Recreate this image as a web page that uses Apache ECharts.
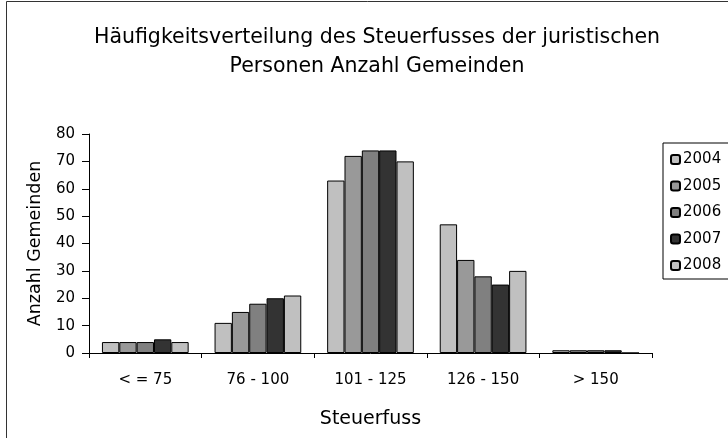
<!DOCTYPE html>
<html><head><meta charset="utf-8">
<script src="https://cdn.jsdelivr.net/npm/echarts@6/dist/echarts.min.js"></script>
<style>html,body{margin:0;padding:0;background:#fff}#c{width:728px;height:438px}</style>
</head><body><div id="c"></div>
<script>
const categories = ['< = 75', '76 - 100', '101 - 125', '126 - 150', '> 150'];
const years = ['2004', '2005', '2006', '2007', '2008'];
const v2004 = [4, 11, 63, 47, 1];
const v2005 = [4, 15, 72, 34, 1];
const v2006 = [4, 18, 74, 28, 1];
const v2007 = [5, 20, 74, 25, 1];
const v2008 = [4, 21, 70, 30, 0];
const yTicks = [0, 10, 20, 30, 40, 50, 60, 70, 80];
const colors = ['#c0c0c0', '#999999', '#808080', '#333333', '#c0c0c0'];
const values = [v2004, v2005, v2006, v2007, v2008];
const FONT = 'DejaVu Sans';

const chart = echarts.init(document.getElementById('c'), null, {renderer: 'canvas'});
chart.setOption({
  animation: false,
  backgroundColor: '#fff',
  textStyle: {fontFamily: FONT, color: '#000'},
  graphic: [{
    type: 'rect', shape: {x: 6.5, y: 1.5, width: 900, height: 600},
    style: {fill: 'none', stroke: '#333', lineWidth: 1}, silent: true, z: -1
  }],
  title: {
    text: 'Häufigkeitsverteilung des Steuerfusses der juristischen\nPersonen Anzahl Gemeinden',
    left: 372, top: 18, textAlign: 'center',
    textStyle: {fontFamily: FONT, fontSize: 20.5, fontWeight: 'normal', color: '#000', lineHeight: 29}
  },
  legend: {
    orient: 'vertical', left: 663, top: 143,
    data: years,
    itemWidth: 9, itemHeight: 9, itemGap: 11.5,
    padding: [9, 30, 6, 7],
    borderColor: '#000', borderWidth: 1,
    textStyle: {fontFamily: FONT, fontSize: 15, color: '#000', padding: [0, 0, 0, -2]}
  },
  grid: {left: 89, right: 76, top: 134, bottom: 85, containLabel: false},
  xAxis: {
    type: 'category', data: categories,
    name: 'Steuerfuss', nameLocation: 'middle', nameGap: 57,
    nameTextStyle: {fontFamily: FONT, fontSize: 19, color: '#000'},
    axisLine: {lineStyle: {color: '#000', width: 1}},
    axisTick: {show: true, inside: false, length: 5, lineStyle: {color: '#000'}},
    axisLabel: {fontFamily: FONT, fontSize: 15, color: '#000', margin: 20}
  },
  yAxis: {
    type: 'value', min: yTicks[0], max: yTicks[yTicks.length - 1], interval: 10,
    name: 'Anzahl Gemeinden', nameLocation: 'middle', nameGap: 45, nameRotate: 90,
    nameTextStyle: {fontFamily: FONT, fontSize: 17.5, color: '#000'},
    axisLine: {show: true, lineStyle: {color: '#000', width: 1}},
    axisTick: {show: true, inside: false, length: 7, lineStyle: {color: '#000'}},
    splitLine: {show: false},
    axisLabel: {fontFamily: FONT, fontSize: 15, color: '#000', margin: 14}
  },
  series: years.map((y, i) => ({
    name: y, type: 'bar', data: values[i],
    barGap: '0%', barCategoryGap: '23%',
    itemStyle: {color: colors[i], borderColor: '#000', borderWidth: 1}
  }))
});
</script></body></html>
